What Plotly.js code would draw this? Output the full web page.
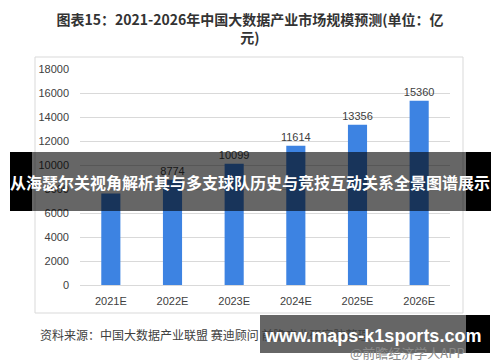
<!DOCTYPE html>
<html>
<head>
<meta charset="utf-8">
<script src="https://cdn.plot.ly/plotly-3.0.1.min.js"></script>
<style>html,body{margin:0;padding:0;background:#fff;}#chart{width:500px;height:362px;}</style>
</head>
<body>
<div id="chart"></div>
<script>
const categories = ['2021E', '2022E', '2023E', '2024E', '2025E', '2026E'];
const marketSize = [7630, 8774, 10099, 11614, 13356, 15360];
// the 2021E label is hidden behind the banner in the reference
const valueLabels = ['', '8774', '10099', '11614', '13356', '15360'];
const yTicks = [0, 2000, 4000, 6000, 8000, 10000, 12000, 14000, 16000, 18000];
const yTickText = ['0', '2000', '4000', '6000', '8000', '10000', '12000', '14000', '16000', '18000'];

const W = 500, H = 362;
const M = {l: 80, r: 50, t: 69, b: 77};
const pw = W - M.l - M.r, ph = H - M.t - M.b;
const px = x => (x - M.l) / pw;
const py = y => (H - M.b - y) / ph;
const CJK = '"Noto Sans CJK SC", "Noto Sans", sans-serif';
const LAT = '"Liberation Sans", Arial, sans-serif';

const trace = {
  type: 'bar',
  x: categories,
  y: marketSize,
  text: valueLabels,
  textposition: 'outside',
  constraintext: 'none',
  cliponaxis: false,
  textfont: {family: LAT, size: 11, color: '#404040'},
  marker: {color: '#3d83e2'},
  hoverinfo: 'none'
};

const layout = {
  width: W, height: H,
  margin: M,
  paper_bgcolor: '#ffffff',
  plot_bgcolor: '#ffffff',
  showlegend: false,
  bargap: 0.69,
  title: {
    text: '图表15：2021-2026年中国大数据产业市场规模预测(单位：亿<br>元)',
    font: {family: CJK, size: 14, color: '#333333', weight: 'bold'},
    x: 0.5, xref: 'container', xanchor: 'center',
    y: 1 - 25 / H, yref: 'container', yanchor: 'middle'
  },
  xaxis: {
    type: 'category',
    tickfont: {family: LAT, size: 11, color: '#404040'},
    showgrid: false, zeroline: false,
    showline: true, linecolor: '#d9d9d9', linewidth: 1,
    ticks: '', ticklabelstandoff: 6
  },
  yaxis: {
    range: [0, 18000],
    tickmode: 'array',
    tickvals: yTicks,
    ticktext: yTickText,
    tickfont: {family: LAT, size: 11, color: '#404040'},
    showgrid: true, gridcolor: '#d9d9d9', gridwidth: 1,
    zeroline: false, showline: false, ticks: '', ticklabelstandoff: 10
  },
  shapes: [
    {type: 'rect', xref: 'paper', yref: 'paper', x0: px(35), x1: px(463), y0: py(313), y1: py(57),
     line: {color: '#d9d9d9', width: 1}, fillcolor: 'rgba(0,0,0,0)', layer: 'below'},
    // middle banner
    {type: 'rect', xref: 'paper', yref: 'paper', x0: px(10), x1: px(32), y0: py(211), y1: py(152),
     line: {width: 0}, fillcolor: '#000000', layer: 'above'},
    {type: 'rect', xref: 'paper', yref: 'paper', x0: px(32), x1: px(466), y0: py(211), y1: py(152),
     line: {width: 0}, fillcolor: 'rgba(0,0,0,0.6)', layer: 'above'},
    {type: 'rect', xref: 'paper', yref: 'paper', x0: px(466), x1: px(491), y0: py(211), y1: py(152),
     line: {width: 0}, fillcolor: '#000000', layer: 'above'},
    // bottom banner
    {type: 'rect', xref: 'paper', yref: 'paper', x0: px(260), x1: px(466), y0: py(353), y1: py(315),
     line: {width: 0}, fillcolor: 'rgba(0,0,0,0.6)', layer: 'above'},
    {type: 'rect', xref: 'paper', yref: 'paper', x0: px(466), x1: px(490), y0: py(353), y1: py(315),
     line: {width: 0}, fillcolor: '#000000', layer: 'above'}
  ],
  annotations: [
    {text: '资料来源：中国大数据产业联盟 赛迪顾问 前瞻产业研究院整理', xref: 'paper', yref: 'paper',
     x: px(38), y: py(334), xanchor: 'left', yanchor: 'middle', showarrow: false,
     font: {family: CJK, size: 12, color: '#404040'}},
    {text: '@前瞻经济学人APP', xref: 'paper', yref: 'paper',
     x: px(467), y: py(352), xanchor: 'right', yanchor: 'middle', showarrow: false,
     font: {family: CJK, size: 13, color: '#8a8a8a'}},
    {text: '从海瑟尔关视角解析其与多支球队历史与竞技互动关系全景图谱展示', xref: 'paper', yref: 'paper',
     x: px(250), y: py(182), xanchor: 'center', yanchor: 'middle', showarrow: false,
     font: {family: CJK, size: 16, color: '#ffffff', weight: 'bold'}},
    {text: 'www.maps-k1sports.com', xref: 'paper', yref: 'paper',
     x: px(372), y: py(336), xanchor: 'center', yanchor: 'middle', showarrow: false,
     font: {family: LAT, size: 18, color: '#ffffff', weight: 'bold'}}
  ]
};

Plotly.newPlot('chart', [trace], layout, {staticPlot: true, displayModeBar: false});
</script>
</body>
</html>
